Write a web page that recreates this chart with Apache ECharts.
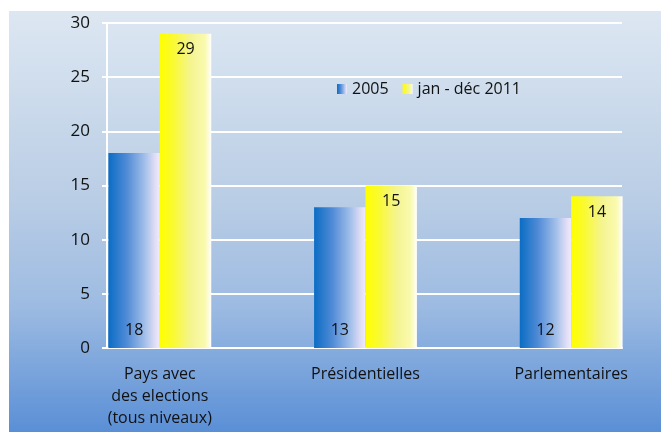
<!DOCTYPE html>
<html>
<head>
<meta charset="utf-8">
<script src="https://cdn.jsdelivr.net/npm/echarts@6/dist/echarts.min.js"></script>
<style>
html,body{margin:0;padding:0;background:#fff;overflow:hidden;width:661px;height:432px;}
#c{width:690px;height:432px;}
</style>
</head>
<body>
<div id="c"></div>
<script>
const categories = ['Pays avec\ndes elections\n(tous niveaux)', 'Présidentielles', 'Parlementaires'];
const seriesNames = ['2005', 'jan - déc 2011'];
const values2005 = [18, 13, 12];
const values2011 = [29, 15, 14];
const yTicks = { min: 0, max: 30, interval: 5 };

const FONT = '"Open Sans", sans-serif';
const chart = echarts.init(document.getElementById('c'), null, { renderer: 'canvas' });

const blueGrad = new echarts.graphic.LinearGradient(0, 0, 1, 0, [
  { offset: 0, color: '#0a6dc4' },
  { offset: 0.35, color: '#4f8ad6' },
  { offset: 0.7, color: '#a0bee9' },
  { offset: 0.9, color: '#dedcf5' },
  { offset: 1, color: '#f0eafc' }
]);
const yellowGrad = new echarts.graphic.LinearGradient(0, 0, 1, 0, [
  { offset: 0, color: '#ffff00' },
  { offset: 0.25, color: '#fafa30' },
  { offset: 0.6, color: '#f4f490' },
  { offset: 0.88, color: '#fafab0' },
  { offset: 1, color: '#ffffff' }
]);

chart.setOption({
  animation: false,
  graphic: [{
    type: 'rect',
    z: -10,
    silent: true,
    shape: { x: 9, y: 11, width: 690, height: 421 },
    style: {
      fill: new echarts.graphic.LinearGradient(0, 0, 0, 1, [
        { offset: 0, color: '#dde7f2' },
        { offset: 0.45, color: '#b9cde5' },
        { offset: 0.7, color: '#9dbbe2' },
        { offset: 1, color: '#5a8fd6' }
      ])
    }
  }],
  legend: {
    left: 332,
    top: 76,
    itemWidth: 10,
    itemHeight: 10,
    itemGap: 14,
    icon: 'rect',
    textStyle: { fontFamily: FONT, fontSize: 16, color: '#111' },
    data: seriesNames
  },
  grid: [
    { left: 107, top: 23, width: 515, height: 325 },
    { left: 57, top: 23, width: 617, height: 325 }
  ],
  xAxis: [
    {
      gridIndex: 0, type: 'category', data: categories,
      axisLine: { show: true, lineStyle: { color: '#ffffff', width: 2 } },
      axisTick: { show: false }, axisLabel: { show: false }, splitLine: { show: false }
    },
    {
      gridIndex: 1, type: 'category', data: categories,
      axisLine: { show: false }, axisTick: { show: false },
      axisLabel: { fontFamily: FONT, fontSize: 16, color: '#111', lineHeight: 22, margin: 15, interval: 0 }
    }
  ],
  yAxis: [
    {
      gridIndex: 0, type: 'value', min: yTicks.min, max: yTicks.max, interval: yTicks.interval,
      axisLine: { show: true, lineStyle: { color: '#ffffff', width: 2 } },
      axisTick: { show: true, length: 5, lineStyle: { color: '#ffffff', width: 2 } },
      axisLabel: { fontFamily: FONT, fontSize: 17, color: '#111', margin: 17 },
      splitLine: { show: true, lineStyle: { color: '#ffffff', width: 2 } }
    },
    {
      gridIndex: 1, type: 'value', min: yTicks.min, max: yTicks.max, interval: yTicks.interval,
      show: false
    }
  ],
  series: [
    {
      name: seriesNames[0], type: 'bar', xAxisIndex: 1, yAxisIndex: 1,
      data: values2005, barGap: '0%', barCategoryGap: '50%',
      itemStyle: { color: blueGrad },
      label: { show: true, position: 'insideBottom', distance: 10, fontFamily: FONT, fontSize: 16, color: '#111' }
    },
    {
      name: seriesNames[1], type: 'bar', xAxisIndex: 1, yAxisIndex: 1,
      data: values2011, barGap: '0%', barCategoryGap: '50%',
      itemStyle: { color: yellowGrad },
      label: { show: true, position: 'insideTop', distance: 8, fontFamily: FONT, fontSize: 16, color: '#111' }
    }
  ]
});
</script>
</body>
</html>
